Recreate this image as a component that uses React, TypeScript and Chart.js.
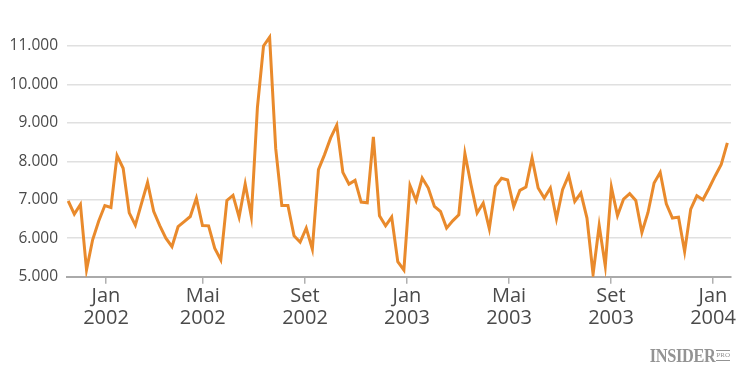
import React, { useEffect, useRef } from "react";
import { Chart, registerables } from "chart.js";

Chart.register(...registerables);

const VALUES: number[] = [
  6970, 6630, 6880, 5180, 5960, 6450, 6850, 6800, 8150, 7820,
  6660, 6340, 6900, 7450, 6700, 6330, 6000, 5780, 6300, 6435,
  6565, 7045, 6330, 6323, 5740, 5436, 6983, 7113, 6550, 7410,
  6565, 9400, 11000, 11230, 8330, 6852, 6852, 6062, 5897, 6263,
  5715, 7784, 8175, 8610, 8940, 7713, 7410, 7505, 6940, 6923,
  8637, 6584, 6323, 6550, 5390, 5175, 7374, 6983, 7567, 7306,
  6826, 6696, 6263, 6453, 6610, 8201, 7392, 6654, 6915, 6245,
  7348, 7560, 7515, 6826, 7244, 7332, 8090, 7306, 7045, 7306,
  6505, 7262, 7635, 6957, 7176, 6524, 5063, 6330, 5280, 7327,
  6590, 7019, 7158, 6983, 6148, 6670, 7437, 7713, 6897, 6524,
  6550, 5652, 6758, 7105, 7001, 7300, 7620, 7920, 8480,
];

const TICK_POS: number[] = [6.19, 22.04, 38.8, 55.51, 72.23, 88.94, 105.65];
const TICK_MONTHS: string[] = ["Jan", "Mai", "Set", "Jan", "Mai", "Set", "Jan"];
const TICK_YEARS: string[] = ["2002", "2002", "2002", "2003", "2003", "2003", "2004"];
const Y_TICKS: number[] = [5000, 6000, 7000, 8000, 9000, 10000, 11000];

const fmt = (v: number) => String(Math.round(v)).replace(/\B(?=(\d{3})+(?!\d))/g, ".");

export default function App() {
  const ref = useRef<HTMLCanvasElement | null>(null);

  useEffect(() => {
    if (!ref.current) return;
    const chart = new Chart(ref.current, {
      type: "line",
      data: {
        datasets: [
          {
            data: VALUES.map((v, i) => ({ x: i, y: v })),
            borderColor: "#E98A2C",
            borderWidth: 3,
            pointRadius: 0,
            tension: 0,
            fill: false,
          },
        ],
      },
      options: {
        animation: false,
        responsive: true,
        maintainAspectRatio: false,
        layout: { padding: { top: 30.6, right: 19, left: 0, bottom: 0 } },
        plugins: { legend: { display: false }, tooltip: { enabled: false } },
        scales: {
          x: {
            type: "linear",
            min: -0.2,
            max: 108.6,
            afterFit: (s: any) => {
              s.height = 108.3;
            },
            afterBuildTicks: (s: any) => {
              s.ticks = TICK_POS.map((v) => ({ value: v }));
            },
            ticks: {
              autoSkip: false,
              maxRotation: 0,
              minRotation: 0,
              padding: 2,
              color: "#4a4a4a",
              font: { family: "'Open Sans', sans-serif", size: 20, lineHeight: 1.1 },
              callback: (_v: any, i: number) => [TICK_MONTHS[i], TICK_YEARS[i]],
            },
            grid: {
              drawOnChartArea: false,
              drawTicks: true,
              tickLength: 7,
              color: "#b0b0b0",
              lineWidth: 1.5,
            },
            border: { display: true, color: "#aaaaaa", width: 2 },
          },
          y: {
            min: 5000,
            max: 11400,
            afterFit: (s: any) => {
              s.width = 67;
            },
            afterBuildTicks: (s: any) => {
              s.ticks = Y_TICKS.map((v) => ({ value: v }));
            },
            ticks: {
              padding: 9,
              color: "#4a4a4a",
              font: { family: "'Open Sans', sans-serif", size: 15.5 },
              callback: (v: any) => fmt(Number(v)),
            },
            grid: { color: "#e0e0e0", lineWidth: 1.5, drawTicks: false },
            border: { display: false },
          },
        },
      },
    });
    return () => chart.destroy();
  }, []);

  return (
    <div style={{ position: "fixed", left: 0, top: 0, width: 750, height: 385, background: "#fff" }}>
      <canvas ref={ref} />
      <div
        style={{
          position: "absolute",
          right: 20,
          top: 346,
          display: "flex",
          alignItems: "center",
          color: "#939393",
          fontFamily: "'Liberation Serif', 'DejaVu Serif', serif",
          fontWeight: 700,
          lineHeight: 1,
        }}
      >
        <span style={{ fontSize: 19, letterSpacing: -0.4, transform: "scaleX(0.86)", transformOrigin: "right center", display: "inline-block" }}>
          INSIDER
        </span>
        <span
          style={{
            fontSize: 7,
            marginLeft: 1,
            borderTop: "1px solid #939393",
            borderBottom: "1px solid #939393",
            padding: "1px 0",
            fontWeight: 400,
          }}
        >
          PRO
        </span>
      </div>
    </div>
  );
}
